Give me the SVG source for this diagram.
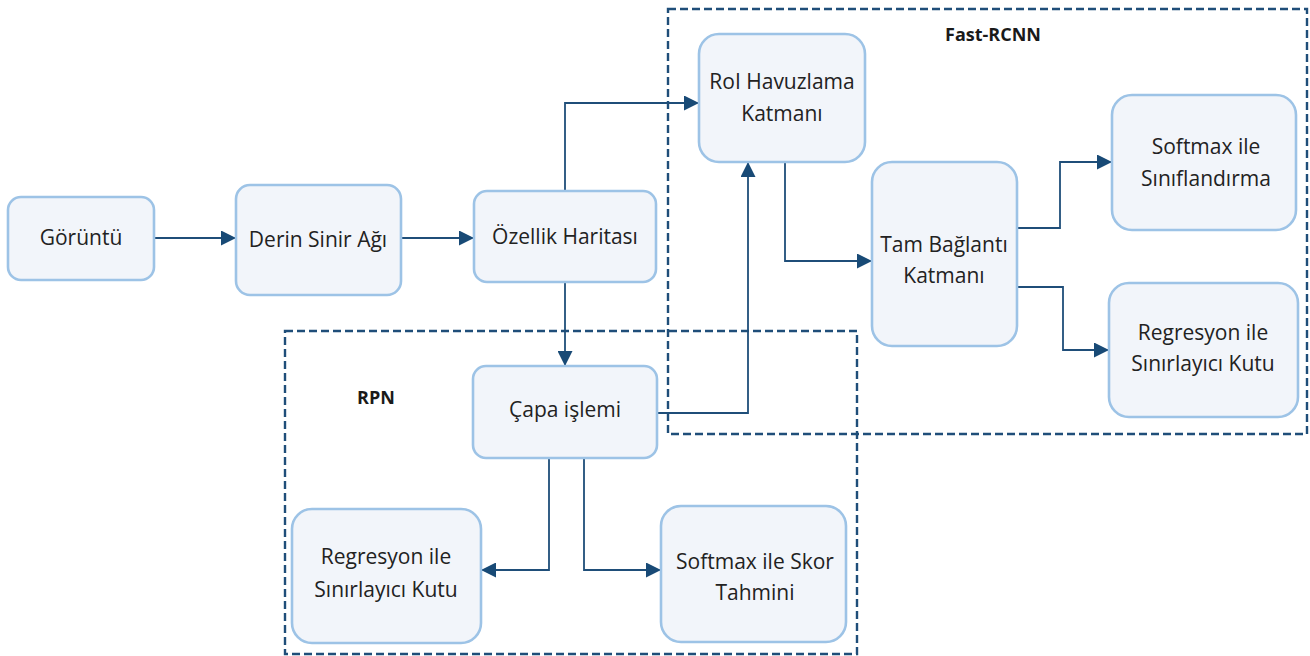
<svg xmlns="http://www.w3.org/2000/svg" width="1310" height="656" viewBox="0 0 1310 656">
<style>
.node rect{fill:#f2f5fa;stroke:#9dc3e6;stroke-width:2.6}
.node text{font-family:"Open Sans","Lato",sans-serif;font-size:21px;fill:#222222;text-anchor:middle}
.grp{fill:none;stroke:#1f4e79;stroke-width:2.4;stroke-dasharray:8 4}
.lbl{font-family:"Open Sans","Lato",sans-serif;font-size:18px;font-weight:bold;fill:#1a1a1a;text-anchor:middle}
#connectors path{fill:none;stroke:#1f4e79;stroke-width:1.8;marker-end:url(#arr)}
</style>
<defs>
<marker id="arr" viewBox="0 0 10 10" refX="10" refY="5" markerWidth="15" markerHeight="15" markerUnits="userSpaceOnUse" orient="auto">
<path d="M0,0 L10,5 L0,10 z" fill="#184a76"/>
</marker>
</defs>
<rect width="1310" height="656" fill="#ffffff"/>
<g id="group-fastrcnn">
<rect class="grp" x="668" y="9" width="639" height="425"/>
<text class="lbl" x="993" y="41">Fast-RCNN</text>
</g>
<g id="group-rpn">
<rect class="grp" x="285" y="331" width="572" height="323"/>
<text class="lbl" x="376" y="404">RPN</text>
</g>
<g id="connectors">
<path d="M154,238 H236"/>
<path d="M401,238 H474"/>
<path d="M565,191 V103 H699"/>
<path d="M565,282 V366"/>
<path d="M657,413 H748 V162"/>
<path d="M785,162 V261 H872"/>
<path d="M1017,228 H1060 V162 H1112"/>
<path d="M1017,287 H1063 V350 H1109"/>
<path d="M549,458 V570 H481"/>
<path d="M584,458 V570 H661"/>
</g>
<g id="n-goruntu" class="node"><rect x="8" y="197" width="146" height="83" rx="13"/><text x="81" y="245">Görüntü</text></g>
<g id="n-derin" class="node"><rect x="236" y="185" width="165" height="110" rx="14"/><text x="318" y="247">Derin Sinir Ağı</text></g>
<g id="n-ozellik" class="node"><rect x="474" y="191" width="182" height="91" rx="13"/><text x="565" y="244">Özellik Haritası</text></g>
<g id="n-roi" class="node"><rect x="699" y="34" width="166" height="128" rx="20"/><text x="782" y="89">RoI Havuzlama</text><text x="782" y="121">Katmanı</text></g>
<g id="n-tam" class="node"><rect x="872" y="162" width="145" height="184" rx="20"/><text x="944" y="252">Tam Bağlantı</text><text x="944" y="283">Katmanı</text></g>
<g id="n-softmax-sinif" class="node"><rect x="1112" y="95" width="184" height="135" rx="20"/><text x="1206" y="154">Softmax ile</text><text x="1206" y="186">Sınıflandırma</text></g>
<g id="n-regresyon-fast" class="node"><rect x="1109" y="283" width="189" height="134" rx="20"/><text x="1203" y="340">Regresyon ile</text><text x="1203" y="371">Sınırlayıcı Kutu</text></g>
<g id="n-capa" class="node"><rect x="473" y="366" width="184" height="92" rx="13"/><text x="565" y="417">Çapa işlemi</text></g>
<g id="n-regresyon-rpn" class="node"><rect x="292" y="509" width="189" height="134" rx="20"/><text x="386" y="564">Regresyon ile</text><text x="386" y="597">Sınırlayıcı Kutu</text></g>
<g id="n-softmax-skor" class="node"><rect x="661" y="506" width="185" height="136" rx="20"/><text x="755" y="569">Softmax ile Skor</text><text x="755" y="600">Tahmini</text></g>
</svg>
